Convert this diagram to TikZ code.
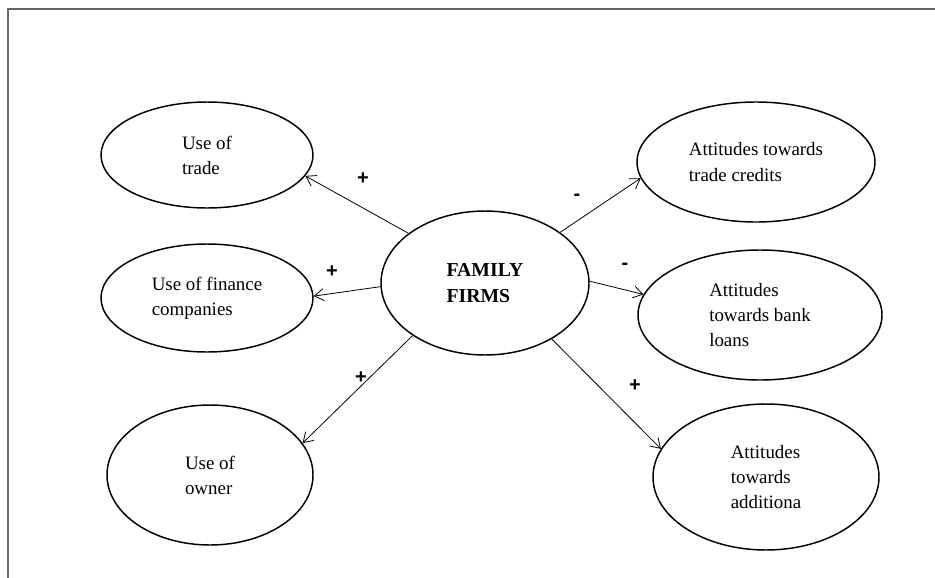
\documentclass[tikz,border=0pt]{standalone}
\usepackage{fontspec}
\setmainfont{Liberation Serif}
\newfontfamily\signfont{Liberation Sans}
\usetikzlibrary{arrows.meta, shapes.geometric}

\begin{document}
\begin{tikzpicture}[x=0.75pt, y=-0.75pt,
  oval/.style={draw, ellipse, line width=1.1pt, inner sep=0pt, align=left,
              font=\fontsize{14.2}{18.8}\selectfont},
  core/.style={oval, font=\fontsize{14.8}{19.5}\selectfont\bfseries},
  arr/.style={-{Straight Barb[length=7pt, width=9pt]}, line width=0.6pt},
  sign/.style={font=\signfont\bfseries\fontsize{15}{15}\selectfont},
  frame/.style={draw=black!60, line width=0.8pt}
]
  \useasboundingbox (0,0) rectangle (935,578);

  % Frame
  \coordinate (corner) at (8,9);
  \draw[frame] (8,578) -- (corner) -- (935,9);

  % Centre
  \node[core, minimum width=156pt, minimum height=108pt] (ff) at (485,283) {FAMILY\\FIRMS};

  % Left side
  \node[oval, minimum width=159pt, minimum height=79.5pt] (trade)   at (207,155) {Use of\\trade};
  \node[oval, minimum width=159pt, minimum height=81pt]   (finance) at (207,298) {Use of finance\\companies};
  \node[oval, minimum width=154.5pt, minimum height=105pt] (owner)  at (210,475) {Use of\\owner};

  % Right side
  \node[oval, minimum width=178.5pt, minimum height=90pt]   (credits) at (756,162) {Attitudes towards\\trade credits};
  \node[oval, minimum width=183pt, minimum height=97.5pt]   (loans)   at (760,315) {Attitudes\\towards bank\\loans};
  \node[oval, minimum width=169.5pt, minimum height=109.5pt] (extra)  at (766,477) {Attitudes\\towards\\additiona};

  % Arrows
  \draw[arr] (ff.147) -- (trade.-12);
  \draw[arr] (ff.182) -- (finance.1.6);
  \draw[arr] (ff.216.5) -- (owner.19.5);
  \draw[arr] (ff.34.7) -- (credits.188.7);
  \draw[arr] (ff.1) -- (loans.170);
  \draw[arr] (ff.-40) -- (extra.165);

  % Signs
  \node[sign] (s1) at (363,179) {+};
  \node[sign] (s2) at (332,272) {+};
  \node[sign] (s3) at (361,378) {+};
  \node[sign] (s4) at (577,197) {-};
  \node[sign] (s5) at (625,266) {-};
  \node[sign] (s6) at (635,386) {+};

\end{tikzpicture}
\end{document}
